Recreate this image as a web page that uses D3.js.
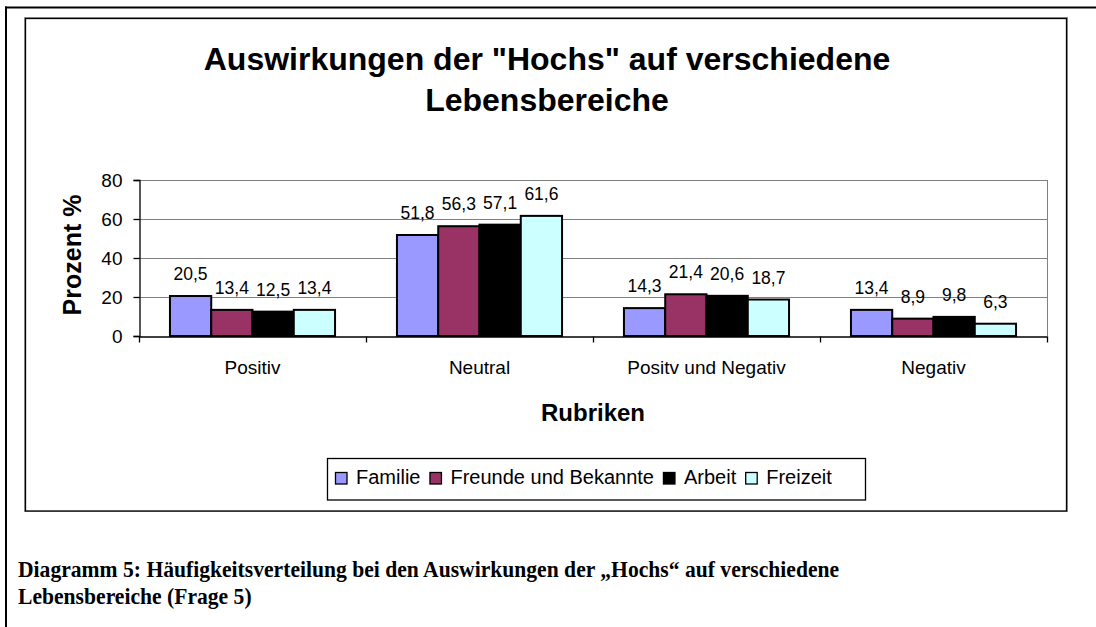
<!DOCTYPE html>
<html>
<head>
<meta charset="utf-8">
<script src="https://cdn.jsdelivr.net/npm/d3@7/dist/d3.min.js"></script>
<style>
  html, body { margin: 0; padding: 0; background: #fff; }
  svg { display: block; }
</style>
</head>
<body>
<svg id="chart" width="1096" height="627"></svg>
<script>
// ---- data ----
const categories = ["Positiv", "Neutral", "Positv und Negativ", "Negativ"];
const seriesNames = ["Familie", "Freunde und Bekannte", "Arbeit", "Freizeit"];
const familie  = [20.5, 51.8, 14.3, 13.4];
const freunde  = [13.4, 56.3, 21.4, 8.9];
const arbeit   = [12.5, 57.1, 20.6, 9.8];
const freizeit = [13.4, 61.6, 18.7, 6.3];
const yTicks = [0, 20, 40, 60, 80];
const seriesColors = ["#9999FF", "#993366", "#000000", "#CCFFFF"];

const seriesValues = [familie, freunde, arbeit, freizeit];

const svg = d3.select("#chart");
const sans = "'Liberation Sans', Arial, sans-serif";
const serif = "'Liberation Serif', 'Times New Roman', serif";

// outer page frame
svg.append("line").attr("x1", 5).attr("x2", 1096).attr("y1", 7.5).attr("y2", 7.5)
  .attr("stroke", "#000").attr("stroke-width", 2);
svg.append("line").attr("x1", 6).attr("x2", 6).attr("y1", 6.5).attr("y2", 627)
  .attr("stroke", "#000").attr("stroke-width", 2);

// chart area border
svg.append("rect").attr("x", 24.5).attr("y", 17.5).attr("width", 1043).attr("height", 494)
  .attr("fill", "none").attr("stroke", "#999").attr("stroke-width", 1);
svg.append("rect").attr("x", 25.5).attr("y", 18.5).attr("width", 1041).attr("height", 492.5)
  .attr("fill", "#fff").attr("stroke", "#000").attr("stroke-width", 1.3);

// title
const title = svg.append("text").attr("text-anchor", "middle")
  .attr("font-family", sans).attr("font-weight", "bold").attr("font-size", 32).attr("fill", "#000");
title.append("tspan").attr("x", 547).attr("y", 70).text('Auswirkungen der "Hochs" auf verschiedene');
title.append("tspan").attr("x", 547).attr("y", 111).text("Lebensbereiche");

// scales
const plotLeft = 139, plotRight = 1047, plotTop = 180, plotBottom = 336;
const x0 = d3.scaleBand().domain(categories).range([plotLeft, plotRight]).paddingInner(0).paddingOuter(0);
const x1 = d3.scaleBand().domain(seriesNames).range([0, x0.bandwidth()]).paddingInner(0).paddingOuter(0.75);
const y = d3.scaleLinear().domain([0, 80]).range([plotBottom, plotTop]);

// gridlines
svg.append("g").selectAll("line").data(yTicks.filter(d => d > 0)).join("line")
  .attr("x1", plotLeft).attr("x2", plotRight)
  .attr("y1", d => Math.round(y(d)) + 0.5).attr("y2", d => Math.round(y(d)) + 0.5)
  .attr("stroke", "#808080").attr("stroke-width", 1);
// right border of plot
svg.append("line").attr("x1", plotRight + 0.5).attr("x2", plotRight + 0.5)
  .attr("y1", plotTop).attr("y2", plotBottom).attr("stroke", "#808080").attr("stroke-width", 1);

// bars
const fmt = d3.formatLocale({decimal: ",", thousands: ".", grouping: [3], currency: ["", "€"]}).format(".1f");
const bars = [];
categories.forEach((c, ci) => {
  seriesNames.forEach((s, si) => {
    bars.push({cat: c, ser: s, si: si, value: seriesValues[si][ci]});
  });
});

const gBars = svg.append("g");
gBars.selectAll("rect").data(bars).join("rect")
  .attr("x", d => x0(d.cat) + x1(d.ser))
  .attr("y", d => y(d.value))
  .attr("width", x1.bandwidth())
  .attr("height", d => y(0) - y(d.value))
  .attr("fill", d => seriesColors[d.si])
  .attr("stroke", "#000").attr("stroke-width", 2);

// data labels
svg.append("g").selectAll("text").data(bars).join("text")
  .attr("x", d => x0(d.cat) + x1(d.ser) + x1.bandwidth() / 2)
  .attr("y", d => y(d.value) - 16)
  .attr("text-anchor", "middle")
  .attr("font-family", sans).attr("font-size", 17.5).attr("fill", "#000")
  .text(d => fmt(d.value));

// y axis
const yAxis = d3.axisLeft(y).tickValues(yTicks).tickSize(6).tickPadding(11).tickFormat(d3.format("d"));
const gy = svg.append("g").attr("transform", `translate(${plotLeft + 0.5},0)`).call(yAxis);
gy.select(".domain").attr("stroke", "#000").attr("stroke-width", 1.3);
gy.selectAll(".tick line").attr("stroke", "#000").attr("stroke-width", 1.3);
gy.selectAll(".tick text").attr("font-family", sans).attr("font-size", 19).attr("fill", "#000");

// x axis
const xAxis = d3.axisBottom(x0).tickSize(0).tickPadding(0);
const gx = svg.append("g").attr("transform", `translate(0,${plotBottom + 0.5})`).call(xAxis);
gx.select(".domain").attr("stroke", "#000").attr("stroke-width", 1.3);
gx.selectAll(".tick text").attr("font-family", sans).attr("font-size", 19).attr("fill", "#000")
  .attr("dy", 0).attr("y", 37.5);
// category boundary ticks
const boundaries = categories.map(c => x0(c)).concat([plotRight]);
gx.append("g").selectAll("line").data(boundaries).join("line")
  .attr("x1", d => d + 0.5).attr("x2", d => d + 0.5).attr("y1", 0).attr("y2", 6)
  .attr("stroke", "#000").attr("stroke-width", 1.3);

// axis titles
svg.append("text").attr("transform", `translate(81,255) rotate(-90)`)
  .attr("text-anchor", "middle").attr("font-family", sans).attr("font-weight", "bold")
  .attr("font-size", 25).attr("fill", "#000").text("Prozent %");
svg.append("text").attr("x", (plotLeft + plotRight) / 2).attr("y", 421)
  .attr("text-anchor", "middle").attr("font-family", sans).attr("font-weight", "bold")
  .attr("font-size", 24).attr("fill", "#000").text("Rubriken");

// legend
const legend = svg.append("g");
legend.append("rect").attr("x", 327.5).attr("y", 458.5).attr("width", 538).attr("height", 41.5)
  .attr("fill", "#fff").attr("stroke", "#000").attr("stroke-width", 1.3);
let lx = 335;
seriesNames.forEach((s, i) => {
  legend.append("rect").attr("x", lx + 0.5).attr("y", 472.5).attr("width", 11.5).attr("height", 11.5)
    .attr("fill", seriesColors[i]).attr("stroke", "#000").attr("stroke-width", 1.3);
  const t = legend.append("text").attr("x", lx + 21).attr("y", 483.5)
    .attr("font-family", sans).attr("font-size", 20).attr("fill", "#000").text(s);
  lx = lx + 21 + t.node().getComputedTextLength() + 9;
});

// caption (tall, slightly condensed Times bold)
const capLines = [
  "Diagramm 5: Häufigkeitsverteilung bei den Auswirkungen der „Hochs“ auf verschiedene",
  "Lebensbereiche (Frage 5)"
];
const capG = svg.append("g").attr("transform", "translate(18,0) scale(0.92,1)");
capG.selectAll("text").data(capLines).join("text")
  .attr("x", 0).attr("y", (d, i) => 577 + i * 27)
  .attr("font-family", serif).attr("font-weight", "bold")
  .attr("font-size", 23.5).attr("fill", "#000").text(d => d);
</script>
</body>
</html>
